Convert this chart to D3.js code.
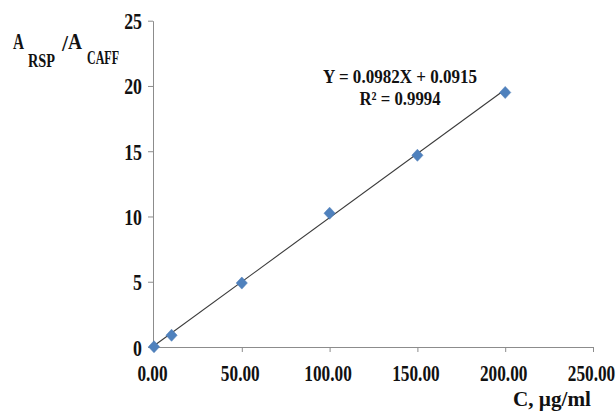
<!DOCTYPE html>
<html>
<head>
<meta charset="utf-8">
<script src="https://cdn.jsdelivr.net/npm/d3@7"></script>
<style>
  html, body { margin: 0; padding: 0; background: #fff; }
  svg text { font-family: "Liberation Serif", "Times New Roman", serif; font-weight: bold; fill: #111; }
</style>
</head>
<body>
<svg id="chart" width="616" height="412"></svg>
<script>
// Calibration data: concentration (µg/ml) vs peak-area ratio
const concentrations = [0, 10, 50, 100, 150, 200];
const areaRatios = [0.02, 0.9, 4.9, 10.25, 14.69, 19.5];
const xTicks = [0, 50, 100, 150, 200, 250];
const yTicks = [0, 5, 10, 15, 20, 25];
const slope = 0.0982;
const intercept = 0.0915;
const rSquared = "0.9994";

const svg = d3.select("#chart");
const x = d3.scaleLinear().domain([0, 250]).range([154, 593]);
const y = d3.scaleLinear().domain([0, 25]).range([347, 20.7]);

// Axes
const xAxis = svg.append("g").attr("transform", `translate(0,${y(0)})`)
  .call(d3.axisBottom(x).tickValues(xTicks).tickSize(5).tickSizeOuter(0).tickFormat(d3.format(".2f")));
const yAxis = svg.append("g").attr("transform", `translate(${x(0) - 1},0)`)
  .call(d3.axisLeft(y).tickValues(yTicks).tickSize(5).tickSizeOuter(0));

[xAxis, yAxis].forEach(g => {
  g.attr("font-family", null).attr("font-size", null);
  g.select(".domain").attr("stroke", "#8c8c8c");
  g.selectAll(".tick line").attr("stroke", "#8c8c8c");
});
// Condensed tall numerals on the tick labels
xAxis.selectAll(".tick text")
  .attr("y", null).attr("dy", null)
  .attr("text-anchor", "middle")
  .style("font-size", "24px")
  .attr("transform", "translate(-2,34) scale(0.72,1)");
yAxis.selectAll(".tick text")
  .attr("x", null).attr("dy", null)
  .attr("text-anchor", "end")
  .style("font-size", "23.5px")
  .attr("transform", "translate(-11,8) scale(0.76,1)");

// Trend line
svg.append("line")
  .attr("x1", x(0)).attr("y1", y(intercept))
  .attr("x2", x(200)).attr("y2", y(slope * 200 + intercept))
  .attr("stroke", "#3a3a3a").attr("stroke-width", 1.1);

// Data markers
const diamond = d3.symbol().type(d3.symbolDiamond2).size(80);
svg.append("g").selectAll("path")
  .data(concentrations.map((c, i) => [c, areaRatios[i]]))
  .join("path")
  .attr("d", diamond)
  .attr("transform", d => `translate(${x(d[0])},${y(d[1])}) scale(1,1.08)`)
  .attr("fill", "#4f81bd").attr("stroke", "#4a7ab5").attr("stroke-width", 0.5);

// Fitted-text helper
function label(xPos, yPos, str, size, width, anchor) {
  return svg.append("text")
    .attr("x", xPos).attr("y", yPos)
    .attr("text-anchor", anchor || "start")
    .style("font-size", size + "px")
    .attr("textLength", width)
    .attr("lengthAdjust", "spacingAndGlyphs")
    .text(str);
}

// Regression equation
label(400, 83, `Y = ${slope}X + ${intercept}`, 19.5, 154, "middle");
label(400, 105, "R² = " + rSquared, 19.5, 81, "middle");

// Y-axis title: A_RSP / A_CAFF
label(13, 49, "A", 24, 11);
label(28, 67, "RSP", 18, 27);
label(62, 51, "/", 24, 6);
label(68, 49, "A", 24, 14);
label(87, 64, "CAFF", 18, 32);

// X-axis title
label(513, 406, "C, µg/ml", 20, 78);
</script>
</body>
</html>
